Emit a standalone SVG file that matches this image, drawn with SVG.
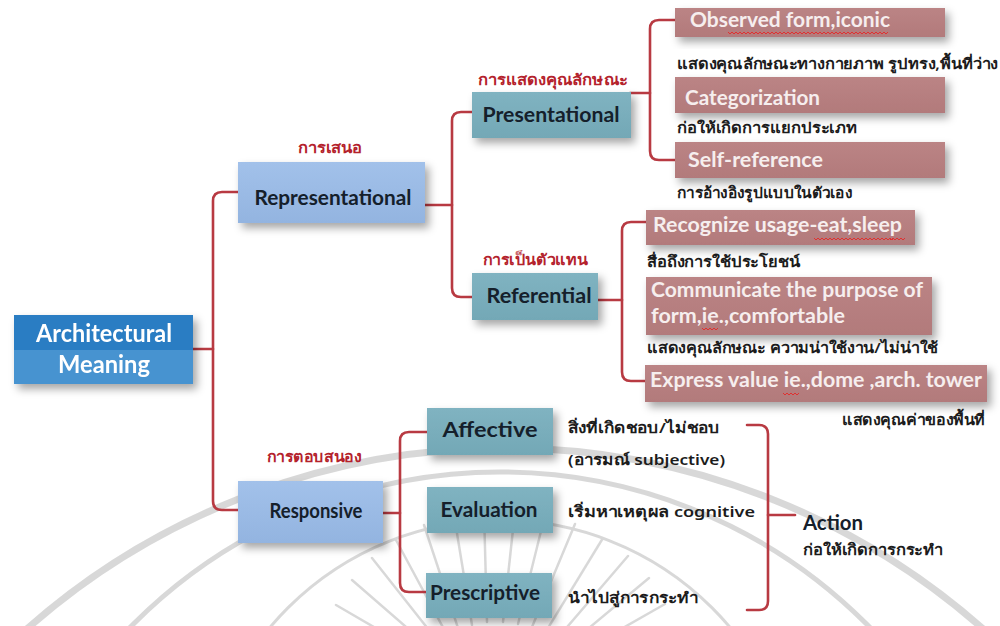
<svg xmlns="http://www.w3.org/2000/svg" width="1000" height="626" viewBox="0 0 1000 626">
  <defs>
    <filter id="shadow" x="-10%" y="-20%" width="130%" height="160%">
      <feDropShadow dx="4" dy="5" stdDeviation="4" flood-color="#000" flood-opacity="0.35"/>
    </filter>
    <linearGradient id="gBlueLight" x1="0" y1="0" x2="0" y2="1">
      <stop offset="0" stop-color="#a2c1ea"/>
      <stop offset="1" stop-color="#93b4e0"/>
    </linearGradient>
    <linearGradient id="gTeal" x1="0" y1="0" x2="0" y2="1">
      <stop offset="0" stop-color="#80b3c1"/>
      <stop offset="1" stop-color="#73a8b6"/>
    </linearGradient>
    <linearGradient id="gRose" x1="0" y1="0" x2="0" y2="1">
      <stop offset="0" stop-color="#bb8485"/>
      <stop offset="1" stop-color="#b27a7b"/>
    </linearGradient>
    <path id="squig" d="M0,0 l2,2 l2,-2 l2,2 l2,-2 l2,2 l2,-2 l2,2 l2,-2"/>
  </defs>
  <style>
    .en { font-family: Lato, "Open Sans", "Liberation Sans", sans-serif; font-weight: bold; }
    .th { font-family: "Noto Sans", "DejaVu Sans", "Liberation Sans", sans-serif; }
    .dark { fill: #15202b; font-size: 20px; }
    .rose { fill: #f6eeee; font-size: 20px; }
    .lbl { fill: #b4222c; font-size: 15px; font-weight: bold; }
    .desc { fill: #1c1c1c; font-size: 15px; font-weight: 600; }
    .conn { fill: none; stroke: #b83a42; stroke-width: 2.6; stroke-linecap: round; stroke-linejoin: round; }
    .wm { fill: none; stroke: #d2d2d2; stroke-linecap: round; }
    .sq { fill: none; stroke: #e03030; stroke-width: 1; }
  </style>

  <rect width="1000" height="626" fill="#ffffff"/>

  <!-- faint seal watermark in the lower half -->
  <g id="watermark" opacity="0.85">
    <circle class="wm" cx="505" cy="1170" r="722" stroke-width="7"/>
    <circle class="wm" cx="500" cy="990" r="518" stroke-width="5"/>
    <circle class="wm" cx="500" cy="820" r="300" stroke-width="3"/>
    <g class="wm" stroke-width="2.5">
      <line x1="422" y1="655" x2="336" y2="605"/>
      <line x1="428" y1="646" x2="352" y2="580"/>
      <line x1="436" y1="639" x2="372" y2="558"/>
      <line x1="446" y1="633" x2="396" y2="540"/>
      <line x1="458" y1="628" x2="424" y2="525"/>
      <line x1="472" y1="625" x2="454" y2="515"/>
      <line x1="487" y1="622" x2="484" y2="511"/>
      <line x1="503" y1="622" x2="515" y2="511"/>
      <line x1="518" y1="624" x2="545" y2="515"/>
      <line x1="532" y1="627" x2="575" y2="524"/>
      <line x1="545" y1="633" x2="603" y2="538"/>
      <line x1="556" y1="640" x2="628" y2="556"/>
      <line x1="565" y1="648" x2="649" y2="578"/>
      <line x1="572" y1="657" x2="665" y2="604"/>
    </g>
  </g>

  <!-- connectors -->
  <g id="connectors">
    <path class="conn" d="M193,349 H213"/>
    <path class="conn" d="M238,192 H222 Q213,192 213,201 V501 Q213,510 222,510 H238"/>
    <path class="conn" d="M425,205 H452"/>
    <path class="conn" d="M472,112 H461 Q452,112 452,121 V288 Q452,297 461,297 H472"/>
    <path class="conn" d="M630,93 H650"/>
    <path class="conn" d="M676,20 H659 Q650,20 650,29 V151 Q650,160 659,160 H676"/>
    <path class="conn" d="M598,300 H622"/>
    <path class="conn" d="M646,222 H631 Q622,222 622,231 V372 Q622,381 631,381 H645"/>
    <path class="conn" d="M383,513 H400"/>
    <path class="conn" d="M427,432 H409 Q400,432 400,441 V583 Q400,592 409,592 H427"/>
    <path class="conn" d="M747,425 H759 Q768,425 768,434 V601 Q768,610 759,610 H747"/>
    <path class="conn" d="M768,515 H795"/>
  </g>

  <!-- root -->
  <g id="architectural-meaning" filter="url(#shadow)">
    <rect x="14" y="315" width="179" height="35" fill="#2a7dc3"/>
    <rect x="14" y="350" width="179" height="34" fill="#4793d0"/>
    <text class="en" x="104" y="342" font-size="24" fill="#ffffff" text-anchor="middle" textLength="136" lengthAdjust="spacingAndGlyphs">Architectural</text>
    <text class="en" x="104" y="373" font-size="24" fill="#ffffff" text-anchor="middle" textLength="92" lengthAdjust="spacingAndGlyphs">Meaning</text>
  </g>

  <!-- first level -->
  <g id="representational">
    <text class="th lbl" x="330" y="153" text-anchor="middle" textLength="64" lengthAdjust="spacingAndGlyphs">การเสนอ</text>
    <rect x="238" y="162" width="187" height="61" fill="url(#gBlueLight)" filter="url(#shadow)"/>
    <text class="en dark" x="333" y="205" text-anchor="middle" textLength="157" lengthAdjust="spacingAndGlyphs">Representational</text>
  </g>

  <g id="responsive">
    <text class="th lbl" x="314" y="462" text-anchor="middle" textLength="95" lengthAdjust="spacingAndGlyphs">การตอบสนอง</text>
    <rect x="238" y="481" width="145" height="62" fill="url(#gBlueLight)" filter="url(#shadow)"/>
    <text class="en dark" x="316" y="518" text-anchor="middle" textLength="93" lengthAdjust="spacingAndGlyphs">Responsive</text>
  </g>

  <!-- second level -->
  <g id="presentational">
    <text class="th lbl" x="553" y="85" text-anchor="middle" textLength="150" lengthAdjust="spacingAndGlyphs">การแสดงคุณลักษณะ</text>
    <rect x="472" y="92" width="159" height="46" fill="url(#gTeal)" filter="url(#shadow)"/>
    <text class="en dark" x="551" y="122" text-anchor="middle" textLength="137" lengthAdjust="spacingAndGlyphs">Presentational</text>
  </g>

  <g id="referential">
    <text class="th lbl" x="535" y="265" text-anchor="middle" textLength="105" lengthAdjust="spacingAndGlyphs">การเป็นตัวแทน</text>
    <rect x="472" y="273" width="126" height="47" fill="url(#gTeal)" filter="url(#shadow)"/>
    <text class="en dark" x="539" y="303" text-anchor="middle" textLength="105" lengthAdjust="spacingAndGlyphs">Referential</text>
  </g>

  <g id="affective">
    <rect x="427" y="408" width="126" height="47" fill="url(#gTeal)" filter="url(#shadow)"/>
    <text class="en dark" x="490" y="437" text-anchor="middle" textLength="95" lengthAdjust="spacingAndGlyphs">Affective</text>
  </g>

  <g id="evaluation">
    <rect x="427" y="487" width="126" height="46" fill="url(#gTeal)" filter="url(#shadow)"/>
    <text class="en dark" x="489" y="517" text-anchor="middle" textLength="97" lengthAdjust="spacingAndGlyphs">Evaluation</text>
  </g>

  <g id="prescriptive">
    <rect x="426" y="573" width="126" height="45" fill="url(#gTeal)" filter="url(#shadow)"/>
    <text class="en dark" x="485" y="600" text-anchor="middle" textLength="110" lengthAdjust="spacingAndGlyphs">Prescriptive</text>
  </g>

  <!-- presentational leaves -->
  <g id="observed-form">
    <rect x="675" y="8" width="270" height="29" fill="url(#gRose)" filter="url(#shadow)"/>
    <text class="en rose" x="690" y="27" textLength="200" lengthAdjust="spacingAndGlyphs">Observed form,iconic</text>
    <use href="#squig" class="sq" x="728" y="32"/><use href="#squig" class="sq" x="744" y="32"/><use href="#squig" class="sq" x="760" y="32"/><use href="#squig" class="sq" x="776" y="32"/><use href="#squig" class="sq" x="792" y="32"/><use href="#squig" class="sq" x="808" y="32"/><use href="#squig" class="sq" x="824" y="32"/><use href="#squig" class="sq" x="840" y="32"/><use href="#squig" class="sq" x="856" y="32"/><use href="#squig" class="sq" x="872" y="32"/>
    <text class="th desc" x="677" y="69" textLength="321" lengthAdjust="spacingAndGlyphs">แสดงคุณลักษณะทางกายภาพ รูปทรง,พื้นที่ว่าง</text>
  </g>

  <g id="categorization">
    <rect x="675" y="77" width="270" height="36" fill="url(#gRose)" filter="url(#shadow)"/>
    <text class="en rose" x="685" y="105" textLength="135" lengthAdjust="spacingAndGlyphs">Categorization</text>
    <text class="th desc" x="677" y="133" textLength="180" lengthAdjust="spacingAndGlyphs">ก่อให้เกิดการแยกประเภท</text>
  </g>

  <g id="self-reference">
    <rect x="675" y="142" width="270" height="36" fill="url(#gRose)" filter="url(#shadow)"/>
    <text class="en rose" x="688" y="167" textLength="135" lengthAdjust="spacingAndGlyphs">Self-reference</text>
    <text class="th desc" x="677" y="198" textLength="175" lengthAdjust="spacingAndGlyphs">การอ้างอิงรูปแบบในตัวเอง</text>
  </g>

  <!-- referential leaves -->
  <g id="recognize-usage">
    <rect x="646" y="210" width="269" height="35" fill="url(#gRose)" filter="url(#shadow)"/>
    <text class="en rose" x="653" y="232" textLength="249" lengthAdjust="spacingAndGlyphs">Recognize usage-eat,sleep</text>
    <use href="#squig" class="sq" x="814" y="238"/><use href="#squig" class="sq" x="830" y="238"/><use href="#squig" class="sq" x="846" y="238"/><use href="#squig" class="sq" x="862" y="238"/><use href="#squig" class="sq" x="878" y="238"/><use href="#squig" class="sq" x="889" y="238"/>
    <text class="th desc" x="647" y="267" textLength="153" lengthAdjust="spacingAndGlyphs">สื่อถึงการใช้ประโยชน์</text>
  </g>

  <g id="communicate-purpose">
    <rect x="646" y="277" width="286" height="58" fill="url(#gRose)" filter="url(#shadow)"/>
    <text class="en rose" x="651" y="297" textLength="272" lengthAdjust="spacingAndGlyphs">Communicate the purpose of</text>
    <text class="en rose" x="651" y="323" textLength="194" lengthAdjust="spacingAndGlyphs">form,ie.,comfortable</text>
    <use href="#squig" class="sq" x="702" y="328"/>
    <text class="th desc" x="647" y="353" textLength="291" lengthAdjust="spacingAndGlyphs">แสดงคุณลักษณะ ความน่าใช้งาน/ไม่น่าใช้</text>
  </g>

  <g id="express-value">
    <rect x="645" y="365" width="342" height="37" fill="url(#gRose)" filter="url(#shadow)"/>
    <text class="en rose" x="650" y="387" textLength="332" lengthAdjust="spacingAndGlyphs">Express value ie.,dome ,arch. tower</text>
    <use href="#squig" class="sq" x="783" y="393"/>
    <text class="th desc" x="985" y="425" text-anchor="end" textLength="143" lengthAdjust="spacingAndGlyphs">แสดงคุณค่าของพื้นที่</text>
  </g>

  <!-- responsive notes -->
  <g id="responsive-notes">
    <text class="th desc" x="568" y="433" font-size="17" textLength="152" lengthAdjust="spacingAndGlyphs">สิ่งที่เกิดชอบ/ไม่ชอบ</text>
    <text class="th desc" x="568" y="465" font-size="17" textLength="157" lengthAdjust="spacingAndGlyphs">(อารมณ์ subjective)</text>
    <text class="th desc" x="568" y="517" font-size="17" textLength="187" lengthAdjust="spacingAndGlyphs">เริ่มหาเหตุผล cognitive</text>
    <text class="th desc" x="568" y="603" font-size="17" textLength="130" lengthAdjust="spacingAndGlyphs">นำไปสู่การกระทำ</text>
  </g>

  <g id="action">
    <text class="en" x="803" y="530" font-size="20" fill="#15202b" textLength="60" lengthAdjust="spacingAndGlyphs">Action</text>
    <text class="th desc" x="803" y="555" textLength="140" lengthAdjust="spacingAndGlyphs">ก่อให้เกิดการกระทำ</text>
  </g>
</svg>
